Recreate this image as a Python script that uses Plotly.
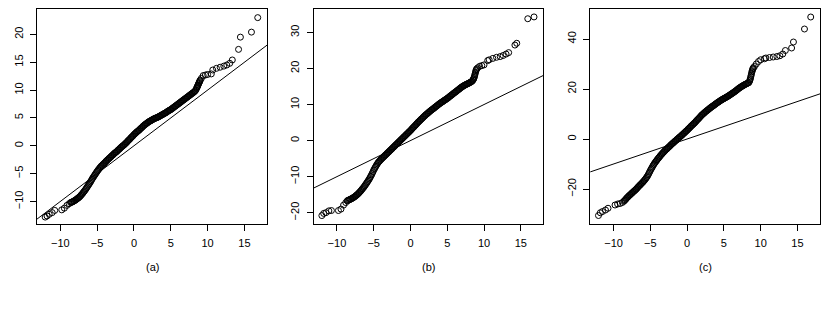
import plotly.graph_objects as go

# ---------------- data ----------------
# shared theoretical quantiles (x) for all three panels
x_lower = [-12.05, -11.8, -11.5, -11.1, -10.75, -9.8, -9.45, -9.1, -8.8]
x_mid = [-8.6, -8.5, -8.4, -8.3, -8.2, -8.1, -8.0, -7.9, -7.8, -7.7, -7.6, -7.5, -7.4, -7.3,
         -7.2, -7.1, -7.0, -6.9, -6.8, -6.7, -6.6, -6.5, -6.4, -6.3, -6.2, -6.1, -6.0, -5.9,
         -5.8, -5.7, -5.6, -5.5, -5.4, -5.3, -5.2, -5.1, -5.0, -4.9, -4.8, -4.7, -4.6, -4.5,
         -4.4, -4.3, -4.2, -4.1, -4.0, -3.9, -3.8, -3.7, -3.6, -3.5, -3.4, -3.3, -3.2, -3.1,
         -3.0, -2.9, -2.8, -2.7, -2.6, -2.5, -2.4, -2.3, -2.2, -2.1, -2.0, -1.9, -1.8, -1.7,
         -1.6, -1.5, -1.4, -1.3, -1.2, -1.1, -1.0, -0.9, -0.8, -0.7, -0.6, -0.5, -0.4, -0.3,
         -0.2, -0.1, 0.0, 0.1, 0.2, 0.3, 0.4, 0.5, 0.6, 0.7, 0.8, 0.9, 1.0, 1.1, 1.2, 1.3,
         1.4, 1.5, 1.6, 1.7, 1.8, 1.9, 2.0, 2.1, 2.2, 2.3, 2.4, 2.5, 2.6, 2.7, 2.8, 2.9,
         3.0, 3.1, 3.2, 3.3, 3.4, 3.5, 3.6, 3.7, 3.8, 3.9, 4.0, 4.1, 4.2, 4.3, 4.4, 4.5,
         4.6, 4.7, 4.8, 4.9, 5.0, 5.1, 5.2, 5.3, 5.4, 5.5, 5.6, 5.7, 5.8, 5.9, 6.0, 6.1,
         6.2, 6.3, 6.4, 6.5, 6.6, 6.7, 6.8, 6.9, 7.0, 7.1, 7.2, 7.3, 7.4, 7.5, 7.6, 7.7,
         7.8, 7.9, 8.0, 8.1, 8.2, 8.3, 8.4]
x_upper = [8.5, 8.55, 8.6, 8.65, 8.7, 8.75, 8.8, 8.85, 8.9, 8.95, 9.0, 9.15, 9.4, 9.7, 10.0,
           10.5, 10.7, 11.2, 11.7, 12.2, 12.6, 13.0, 13.35, 14.2, 14.45, 15.95, 16.8]

# panel (a) sample quantiles
a_lower = [-12.8, -12.6, -12.3, -12.0, -11.6, -11.5, -11.2, -10.7, -10.4]
a_mid = [-10.2, -10.15, -10.1, -10.02, -9.95, -9.88, -9.8, -9.7, -9.6, -9.5, -9.4, -9.3, -9.2,
         -9.05, -8.9, -8.75, -8.6, -8.42, -8.25, -8.08, -7.9, -7.7, -7.5, -7.3, -7.1, -6.9,
         -6.7, -6.48, -6.25, -6.02, -5.8, -5.6, -5.4, -5.2, -5.0, -4.8, -4.6, -4.42, -4.25,
         -4.08, -3.9, -3.75, -3.6, -3.48, -3.35, -3.22, -3.1, -2.95, -2.8, -2.68, -2.55, -2.42,
         -2.3, -2.18, -2.05, -1.92, -1.8, -1.68, -1.55, -1.42, -1.3, -1.2, -1.1, -0.98, -0.85,
         -0.72, -0.6, -0.48, -0.35, -0.22, -0.1, 0.0, 0.1, 0.22, 0.35, 0.48, 0.6, 0.75, 0.9,
         1.02, 1.15, 1.3, 1.45, 1.58, 1.7, 1.85, 2.0, 2.12, 2.25, 2.38, 2.5, 2.6, 2.7, 2.82,
         2.95, 3.08, 3.2, 3.32, 3.45, 3.58, 3.7, 3.8, 3.9, 4.0, 4.1, 4.2, 4.3, 4.38, 4.45,
         4.52, 4.6, 4.68, 4.75, 4.82, 4.9, 4.95, 5.0, 5.05, 5.1, 5.18, 5.25, 5.32, 5.4, 5.48,
         5.55, 5.62, 5.7, 5.78, 5.85, 5.92, 6.0, 6.1, 6.2, 6.28, 6.35, 6.42, 6.5, 6.6, 6.7,
         6.8, 6.9, 7.0, 7.1, 7.2, 7.3, 7.4, 7.5, 7.6, 7.7, 7.8, 7.9, 8.0, 8.1, 8.2, 8.3, 8.4,
         8.5, 8.6, 8.7, 8.8, 8.9, 9.0, 9.1, 9.2, 9.3, 9.4, 9.5, 9.6, 9.7, 9.85, 10.0]
a_upper = [10.3, 10.45, 10.6, 10.75, 10.9, 11.05, 11.2, 11.35, 11.5, 11.65, 11.8, 12.1, 12.6,
           12.7, 12.8, 12.9, 13.6, 13.9, 14.1, 14.3, 14.5, 14.8, 15.4, 17.3, 19.5, 20.4, 23.0]

# panel (b) sample quantiles
b_lower = [-20.8, -20.2, -20.0, -19.5, -19.4, -19.4, -19.0, -17.9, -17.2]
b_mid = [-16.7, -16.6, -16.5, -16.4, -16.3, -16.2, -16.1, -15.98, -15.85, -15.72, -15.6, -15.42,
         -15.25, -15.08, -14.9, -14.7, -14.5, -14.28, -14.05, -13.8, -13.55, -13.3, -13.05,
         -12.78, -12.5, -12.2, -11.9, -11.6, -11.3, -10.98, -10.65, -10.28, -9.9, -9.5, -9.1,
         -8.65, -8.2, -7.82, -7.45, -7.1, -6.75, -6.42, -6.1, -5.88, -5.65, -5.42, -5.2, -5.0,
         -4.8, -4.6, -4.4, -4.2, -4.0, -3.8, -3.6, -3.4, -3.2, -3.0, -2.8, -2.6, -2.4, -2.2,
         -2.0, -1.8, -1.6, -1.4, -1.2, -1.0, -0.8, -0.6, -0.4, -0.2, 0.0, 0.2, 0.4, 0.6, 0.8,
         1.0, 1.2, 1.4, 1.6, 1.8, 2.0, 2.2, 2.4, 2.6, 2.8, 3.02, 3.25, 3.48, 3.7, 3.9, 4.1,
         4.32, 4.55, 4.78, 5.0, 5.2, 5.4, 5.6, 5.8, 6.0, 6.2, 6.4, 6.6, 6.8, 7.0, 7.18, 7.35,
         7.52, 7.7, 7.88, 8.05, 8.22, 8.4, 8.55, 8.7, 8.85, 9.0, 9.18, 9.35, 9.5, 9.65, 9.82,
         10.0, 10.15, 10.3, 10.45, 10.6, 10.72, 10.85, 11.0, 11.15, 11.28, 11.4, 11.55, 11.7,
         11.85, 12.0, 12.18, 12.35, 12.5, 12.65, 12.82, 13.0, 13.15, 13.3, 13.45, 13.6, 13.78,
         13.95, 14.1, 14.25, 14.42, 14.6, 14.75, 14.9, 15.02, 15.15, 15.28, 15.4, 15.5, 15.6,
         15.7, 15.8, 15.9, 16.0, 16.12, 16.25, 16.38, 16.5]
b_upper = [16.8, 17.0, 17.2, 17.5, 17.8, 18.2, 18.6, 19.0, 19.4, 19.65, 19.9, 20.2, 20.6, 20.8,
           21.0, 22.2, 22.4, 22.8, 23.1, 23.3, 23.6, 24.0, 24.4, 26.5, 27.0, 33.8, 34.3]

# panel (c) sample quantiles
c_lower = [-30.6, -29.5, -29.0, -28.4, -27.7, -26.4, -26.0, -25.8, -25.4]
c_mid = [-24.9, -24.6, -24.3, -23.95, -23.6, -23.3, -23.0, -22.72, -22.45, -22.18, -21.9, -21.62,
         -21.35, -21.08, -20.8, -20.55, -20.3, -19.98, -19.65, -19.32, -19.0, -18.7, -18.4,
         -18.1, -17.8, -17.5, -17.2, -16.85, -16.5, -16.12, -15.75, -15.32, -14.9, -14.35,
         -13.8, -13.2, -12.6, -12.08, -11.55, -11.02, -10.5, -10.05, -9.6, -9.2, -8.8, -8.4,
         -8.0, -7.65, -7.3, -6.92, -6.55, -6.22, -5.9, -5.58, -5.25, -4.92, -4.6, -4.32, -4.05,
         -3.78, -3.5, -3.22, -2.95, -2.65, -2.35, -2.08, -1.8, -1.55, -1.3, -1.02, -0.75, -0.5,
         -0.25, 0.02, 0.3, 0.55, 0.8, 1.05, 1.3, 1.58, 1.85, 2.12, 2.4, 2.68, 2.95, 3.22, 3.5,
         3.8, 4.1, 4.4, 4.7, 5.0, 5.3, 5.58, 5.85, 6.12, 6.4, 6.72, 7.05, 7.38, 7.7, 8.0, 8.3,
         8.62, 8.95, 9.28, 9.6, 9.85, 10.1, 10.38, 10.65, 10.9, 11.15, 11.38, 11.6, 11.85,
         12.1, 12.32, 12.55, 12.78, 13.0, 13.2, 13.4, 13.62, 13.85, 14.08, 14.3, 14.5, 14.7,
         14.9, 15.1, 15.3, 15.5, 15.68, 15.85, 16.02, 16.2, 16.35, 16.5, 16.68, 16.85, 17.02,
         17.2, 17.4, 17.6, 17.8, 18.0, 18.2, 18.4, 18.6, 18.8, 19.02, 19.25, 19.48, 19.7,
         19.95, 20.2, 20.4, 20.6, 20.8, 21.0, 21.18, 21.35, 21.52, 21.7, 21.85, 22.0, 22.15,
         22.3, 22.45, 22.6]
c_upper = [23.2, 23.7, 24.2, 24.85, 25.5, 26.15, 26.8, 27.3, 27.8, 28.15, 28.5, 29.0, 30.0,
           31.0, 31.7, 32.1, 32.4, 32.6, 32.8, 33.0, 33.3, 34.0, 35.4, 36.4, 38.8, 44.0, 48.8]

# reference line y = intercept + slope * x
ref_intercept = 0.0
ref_slope = 1.0

panel_labels = ["(a)", "(b)", "(c)"]
x_ticks = [-10, -5, 0, 5, 10, 15]
y_ticks_a = [-10, -5, 0, 5, 10, 15, 20]
y_ticks_b = [-20, -10, 0, 10, 20, 30]
y_ticks_c = [-20, 0, 20, 40]

assert len(x_mid) == len(a_mid) == len(b_mid) == len(c_mid), (len(x_mid), len(a_mid), len(b_mid), len(c_mid))
assert len(x_upper) == len(a_upper) == len(b_upper) == len(c_upper)
assert len(x_lower) == len(a_lower) == len(b_lower) == len(c_lower)

# ---------------- figure ----------------
# the page body has an 8px default margin, so the figure is placed at (8, 8)
OFF = 8
W, H = 830 - OFF, 318 - OFF
x_all = x_lower + x_mid + x_upper
samples = [a_lower + a_mid + a_upper, b_lower + b_mid + b_upper, c_lower + c_mid + c_upper]
y_tick_sets = [y_ticks_a, y_ticks_b, y_ticks_c]

x_range = [-13.16, 18.06]
y_ranges = [[-13.95, 24.55], [-23.0, 36.5], [-33.8, 52.0]]
x_domains_px = [(37, 267), (313.7, 543.3), (590.3, 820)]
y_top_px, y_bot_px = 9, 223.5
label_x_px = [152, 428, 705]
label_y_px = 267

y_domain = [1 - (y_bot_px - OFF) / H, 1 - (y_top_px - OFF) / H]

font = dict(family="Liberation Sans, Arial, sans-serif", size=11, color="black")


def minus(v):
    return str(v).replace("-", "\u2212")


fig = go.Figure()
layout = dict(
    width=W, height=H,
    margin=dict(l=0, r=0, t=0, b=0, autoexpand=False),
    paper_bgcolor="white", plot_bgcolor="white",
    showlegend=False, font=font,
    annotations=[],
)

for i in range(3):
    xa = "x" if i == 0 else f"x{i+1}"
    ya = "y" if i == 0 else f"y{i+1}"
    fig.add_trace(go.Scatter(
        x=x_all, y=samples[i], mode="markers", xaxis=xa, yaxis=ya,
        marker=dict(symbol="circle-open", size=6, color="black", line=dict(width=1, color="black")),
        hoverinfo="skip",
    ))
    lx = [x_range[0] - 1, x_range[1] + 1]
    fig.add_trace(go.Scatter(
        x=lx, y=[ref_intercept + ref_slope * v for v in lx], mode="lines",
        xaxis=xa, yaxis=ya, line=dict(color="black", width=1), hoverinfo="skip",
    ))
    xk = "xaxis" if i == 0 else f"xaxis{i+1}"
    yk = "yaxis" if i == 0 else f"yaxis{i+1}"
    d0, d1 = x_domains_px[i]
    layout[xk] = dict(
        domain=[(d0 - OFF) / W, (d1 - OFF) / W], range=x_range, anchor=ya, automargin=False,
        showgrid=False, zeroline=False, showline=True, mirror=True,
        linecolor="black", linewidth=1, ticks="outside", ticklen=6, tickwidth=1,
        tickcolor="black", tickvals=x_ticks, ticktext=[minus(v) for v in x_ticks],
        tickfont=font, ticklabelstandoff=3,
    )
    layout[yk] = dict(
        domain=y_domain, range=y_ranges[i], anchor=xa, automargin=False,
        showgrid=False, zeroline=False, showline=True, mirror=True,
        linecolor="black", linewidth=1, ticks="outside", ticklen=6, tickwidth=1,
        tickcolor="black", tickvals=y_tick_sets[i],
        ticktext=[minus(v) for v in y_tick_sets[i]],
        tickangle=-90, tickfont=font, ticklabelstandoff=3,
    )
    layout["annotations"].append(dict(
        text=panel_labels[i], x=(label_x_px[i] - OFF) / W, y=1 - (label_y_px - OFF) / H,
        xref="paper", yref="paper", showarrow=False, font=font,
        xanchor="center", yanchor="middle",
    ))

fig.update_layout(**layout)
fig.write_html("out.html")
